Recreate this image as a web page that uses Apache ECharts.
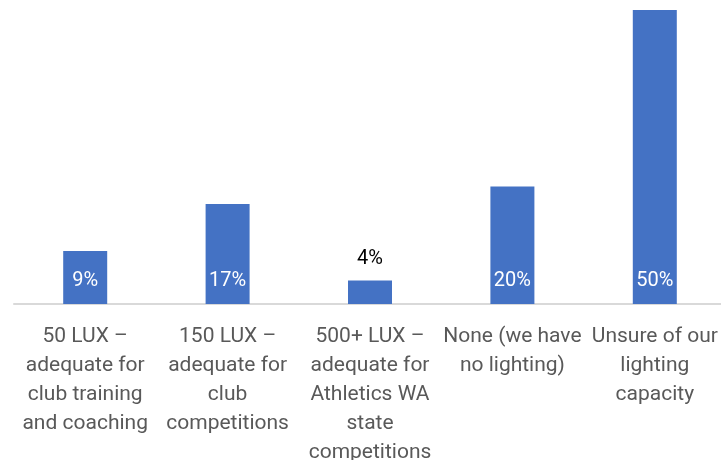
<!DOCTYPE html>
<html>
<head>
<meta charset="utf-8">
<script src="https://cdn.jsdelivr.net/npm/echarts@6/dist/echarts.min.js"></script>
<style>
  html, body { margin: 0; padding: 0; background: #fff; }
  #chart { width: 721px; height: 460px; }
</style>
</head>
<body>
<div id="chart"></div>
<script>
// lighting levels and share of clubs (%)
const categories = [
  '50 LUX –\nadequate for\nclub training\nand coaching',
  '150 LUX –\nadequate for\nclub\ncompetitions',
  '500+ LUX –\nadequate for\nAthletics WA\nstate\ncompetitions',
  'None (we have\nno lighting)',
  'Unsure of our\nlighting\ncapacity'
];
const values = [9, 17, 4, 20, 50];

const font = 'Roboto, sans-serif';

const chart = echarts.init(document.getElementById('chart'), null, { renderer: 'canvas' });

const data = values.map(v => {
  // small bar gets its label above, in black
  if (v < 5) {
    return {
      value: v,
      label: { position: 'top', color: '#000', distance: 11 }
    };
  }
  return v;
});

chart.setOption({
  animation: false,
  grid: { left: 14, right: -5, top: 10, bottom: 156, outerBoundsMode: 'none' },
  xAxis: {
    type: 'category',
    data: categories,
    axisLine: { lineStyle: { color: '#d9d9d9', width: 2 } },
    axisTick: { show: false },
    axisLabel: {
      interval: 0,
      color: '#595959',
      fontFamily: font,
      fontSize: 21,
      lineHeight: 29,
      margin: 18
    }
  },
  yAxis: {
    type: 'value',
    min: 0,
    max: 50,
    show: false
  },
  series: [{
    type: 'bar',
    data: data,
    barWidth: 44,
    itemStyle: { color: '#4472c4' },
    label: {
      show: true,
      position: 'insideBottom',
      distance: 13,
      color: '#fff',
      fontFamily: font,
      fontSize: 20,
      formatter: p => p.value + '%'
    }
  }]
});
</script>
</body>
</html>
